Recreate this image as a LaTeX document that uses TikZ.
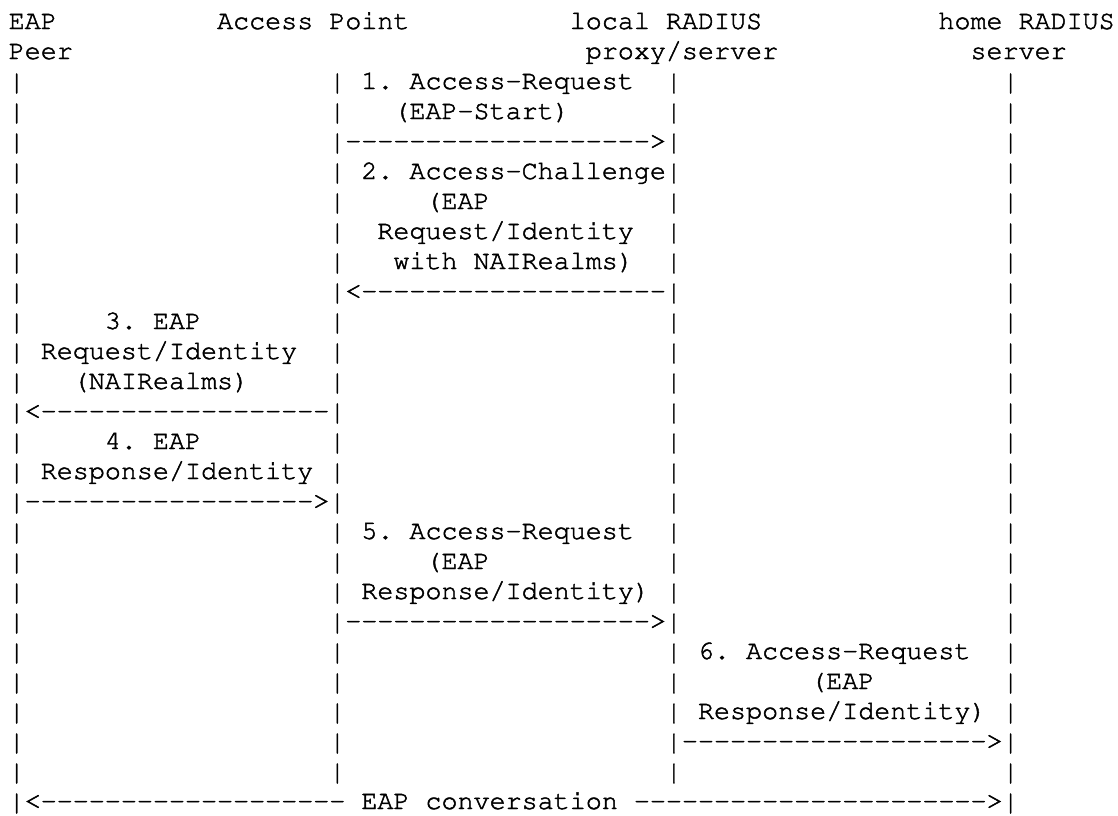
\documentclass[tikz,border=0pt]{standalone}
\usepackage[T1,TU]{fontenc}
\usepackage{graphicx}
\newlength{\du}
\setlength{\du}{0.75pt}
\definecolor{dialinecolor}{rgb}{0.000000, 0.000000, 0.000000}
% slightly heavier glyphs, and a bar that fills the line
\newcommand{\inkheavy}{\special{pdf:literal direct 2 Tr 0.35 w}}
\newcommand{\vbar}{\raisebox{-8\du}{\resizebox*{\width}{27\du}{\raisebox{\depth}{|}}}}
\newcommand{\dashrun}[1]{\foreach \k in {1,...,#1}{-}}
\tikzset{
  ascii/.style={anchor=base west, inner sep=0pt, outer sep=0pt, text=dialinecolor,
    font=\fontencoding{T1}\fontfamily{pcr}\fontsize{20.04pt}{24pt}\selectfont\frenchspacing\inkheavy},
}
\begin{document}
\begin{tikzpicture}[x=16.03\du, y=-30\du]
\useasboundingbox (-8.7\du,29\du) rectangle (1109.3\du,-786\du);
% header
\node[ascii] (peer1) at (0,0) {EAP};
\node[ascii] (peer2) at (0,1) {Peer};
\node[ascii] (ap1) at (13,0) {Access Point};
\node[ascii] (lrad1) at (35,0) {local RADIUS};
\node[ascii] (lrad2) at (36,1) {proxy/server};
\node[ascii] (hrad1) at (58,0) {home RADIUS};
\node[ascii] (hrad2) at (60,1) {server};
% lifelines
\foreach \r in {2,...,26} {
  \node[ascii] (pl\r) at (0,\r) {\vbar};
  \node[ascii] (hl\r) at (62,\r) {\vbar};
}
\foreach \r in {2,...,25} {
  \node[ascii] (al\r) at (20,\r) {\vbar};
  \node[ascii] (ll\r) at (41,\r) {\vbar};
}
% messages
\node[ascii] (m1a) at (22,2) {1. Access-Request};
\node[ascii] (m1b) at (24,3) {(EAP-Start)};
\node[ascii] (m1) at (21,4) {\dashrun{19}>};
\node[ascii] (m2a) at (22,5) {2. Access-Challenge};
\node[ascii] (m2b) at (26,6) {(EAP};
\node[ascii] (m2c) at (23,7) {Request/Identity};
\node[ascii] (m2d) at (24,8) {with NAIRealms)};
\node[ascii] (m2) at (21,9) {<\dashrun{19}};
\node[ascii] (m3a) at (6,10) {3. EAP};
\node[ascii] (m3b) at (2,11) {Request/Identity};
\node[ascii] (m3c) at (4,12) {(NAIRealms)};
\node[ascii] (m3) at (1,13) {<\dashrun{18}};
\node[ascii] (m4a) at (6,14) {4. EAP};
\node[ascii] (m4b) at (2,15) {Response/Identity};
\node[ascii] (m4) at (1,16) {\dashrun{18}>};
\node[ascii] (m5a) at (22,17) {5. Access-Request};
\node[ascii] (m5b) at (26,18) {(EAP};
\node[ascii] (m5c) at (22,19) {Response/Identity)};
\node[ascii] (m5) at (21,20) {\dashrun{19}>};
\node[ascii] (m6a) at (43,21) {6. Access-Request};
\node[ascii] (m6b) at (50,22) {(EAP};
\node[ascii] (m6c) at (43,23) {Response/Identity)};
\node[ascii] (m6) at (42,24) {\dashrun{19}>};
% closing exchange
\node[ascii] (conv) at (1,26) {<\dashrun{19} EAP conversation \dashrun{22}>};
\end{tikzpicture}
\end{document}
